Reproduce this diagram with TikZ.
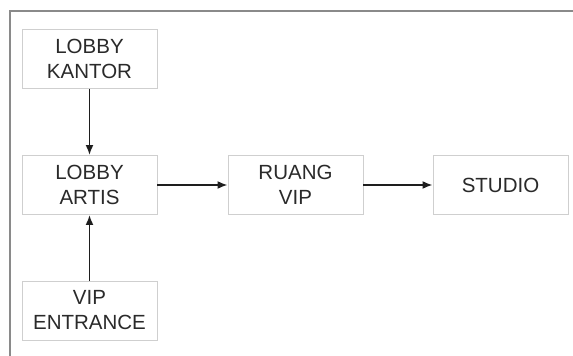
\documentclass[tikz,border=0pt]{standalone}
\usepackage{fontspec}
\setmainfont{Liberation Sans}
\usetikzlibrary{arrows.meta}
\definecolor{framegray}{HTML}{8A8A8A}
\definecolor{boxgray}{HTML}{CFCFCF}
\definecolor{textgray}{HTML}{2A2A2A}
\definecolor{arrowgray}{HTML}{1E1E1E}
\tikzset{
  room/.style={draw=boxgray,fill=white,line width=0.9pt,minimum width=135pt,minimum height=59pt,inner sep=0pt,align=center,font=\fontsize{20.5}{25}\selectfont,text=textgray},
  arr/.style={-{Latex[length=10pt,width=8pt]},draw=arrowgray,line width=1.8pt}
}
\begin{document}
\begin{tikzpicture}[x=1pt,y=1pt]
\path[use as bounding box] (0,0) rectangle (573,356);
\draw[framegray,line width=1.4pt] (10,0)--(10,345)--(573,345);
\node[room] (kantor) at (89.5,297) {LOBBY\\KANTOR};
\node[room] (artis) at (89.5,171) {LOBBY\\ARTIS};
\node[room] (entrance) at (89.5,45.5) {VIP\\ENTRANCE};
\node[room] (ruang) at (295.5,171) {RUANG\\VIP};
\node[room] (studio) at (500.5,171) {STUDIO};
\draw[arr] (kantor)--(artis);
\draw[arr] (entrance)--(artis);
\draw[arr] (artis)--(ruang);
\draw[arr] (ruang)--(studio);
\end{tikzpicture}
\end{document}
